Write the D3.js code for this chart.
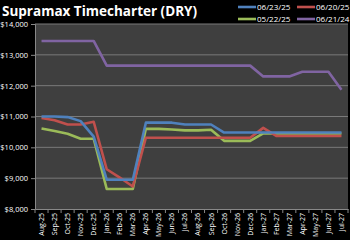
<!DOCTYPE html>
<html>
<head>
<meta charset="utf-8">
<script src="https://cdn.jsdelivr.net/npm/d3@7"></script>
<style>
  body { margin: 0; background: #000; }
  svg { display: block; font-family: "Open Sans", "Liberation Sans", sans-serif; }
</style>
</head>
<body>
<div id="chart"></div>
<script>
// months on the x axis
var months = ["Aug-25", "Sep-25", "Oct-25", "Nov-25", "Dec-25", "Jan-26", "Feb-26", "Mar-26",
  "Apr-26", "May-26", "Jun-26", "Jul-26", "Aug-26", "Sep-26", "Oct-26", "Nov-26", "Dec-26",
  "Jan-27", "Feb-27", "Mar-27", "Apr-27", "May-27", "Jun-27", "Jul-27"];

var seriesNames = ["06/23/25", "06/20/25", "05/22/25", "06/21/24"];
var seriesColors = ["#4f81bd", "#c0504d", "#9bbb59", "#8064a2"];

var s062325 = [11000, 11000, 10980, 10850, 10350, 8950, 8950, 8950, 10800, 10800, 10800, 10740,
  10740, 10740, 10480, 10480, 10480, 10480, 10480, 10480, 10480, 10480, 10480, 10480];
var s062025 = [10950, 10880, 10740, 10740, 10830, 9290, 9020, 8730, 10310, 10310, 10310, 10310,
  10310, 10310, 10310, 10310, 10310, 10630, 10370, 10370, 10370, 10370, 10370, 10370];
var s052225 = [10610, 10530, 10440, 10280, 10280, 8650, 8650, 8650, 10600, 10600, 10580, 10550,
  10550, 10570, 10210, 10210, 10210, 10450, 10450, 10450, 10450, 10450, 10450, 10450];
var s062124 = [13450, 13450, 13450, 13450, 13450, 12650, 12650, 12650, 12650, 12650, 12650, 12650,
  12650, 12650, 12650, 12650, 12650, 12300, 12300, 12300, 12450, 12450, 12450, 11870];

var yTicks = [8000, 9000, 10000, 11000, 12000, 13000, 14000];

var seriesValues = [s062325, s062025, s052225, s062124];

var W = 350, H = 240;
var margin = {top: 24, right: 2, bottom: 31, left: 35};
var width = W - margin.left - margin.right,
    height = H - margin.top - margin.bottom;

var svg = d3.select("#chart").append("svg")
  .attr("width", W)
  .attr("height", H);

svg.append("rect").attr("width", W).attr("height", H).attr("fill", "#000");

// title
svg.append("text")
  .attr("x", 2)
  .attr("y", 16)
  .attr("fill", "#fff")
  .style("font-size", "13.5px")
  .style("font-weight", "bold")
  .text("Supramax Timecharter (DRY)");

var g = svg.append("g")
  .attr("transform", "translate(" + margin.left + "," + margin.top + ")");

var x = d3.scaleBand().domain(months).range([0, width]);
var y = d3.scaleLinear().domain([8000, 14000]).range([height, 0]);

g.append("rect")
  .attr("width", width)
  .attr("height", height)
  .attr("fill", "#3f3f3f");

// gridlines
g.selectAll(".grid")
  .data(yTicks.slice(1))
  .enter().append("line")
  .attr("x1", 0).attr("x2", width)
  .attr("y1", d => y(d)).attr("y2", d => y(d))
  .attr("stroke", "#7a7a7a")
  .attr("stroke-width", 1);

// y axis
var yAxis = g.append("g")
  .call(d3.axisLeft(y).tickValues(yTicks).tickSize(4).tickPadding(3)
    .tickFormat(d => "$" + d3.format(",")(d)));
yAxis.select(".domain").attr("stroke", "#888");
yAxis.selectAll(".tick line").attr("stroke", "#888");
yAxis.selectAll("text").attr("fill", "#fff").style("font-size", "7.5px")
  .style("font-family", "'Open Sans', sans-serif");

// x axis
var xAxis = g.append("g")
  .attr("transform", "translate(0," + height + ")")
  .call(d3.axisBottom(x).tickSize(0).tickPadding(4));
xAxis.select(".domain").attr("stroke", "#888");
xAxis.selectAll("text")
  .attr("fill", "#fff")
  .style("font-size", "7px")
  .style("font-family", "'Open Sans', sans-serif")
  .attr("transform", "rotate(-90)")
  .attr("text-anchor", "end")
  .attr("x", -4)
  .attr("y", 0)
  .attr("dy", "0.35em");

// tick marks between categories
xAxis.selectAll(".sep")
  .data(months.concat(["end"]))
  .enter().append("line")
  .attr("x1", (d, i) => i * x.step())
  .attr("x2", (d, i) => i * x.step())
  .attr("y1", 0).attr("y2", 4)
  .attr("stroke", "#888");

var line = d3.line()
  .x((d, i) => x(months[i]) + x.bandwidth() / 2)
  .y(d => y(d));

// draw purple first so the others sit on top like the original
[3, 2, 1, 0].forEach(function(k) {
  g.append("path")
    .datum(seriesValues[k])
    .attr("fill", "none")
    .attr("stroke", seriesColors[k])
    .attr("stroke-width", 2.6)
    .attr("stroke-linejoin", "round")
    .attr("d", line);
});

// legend
var legendPos = [[238, 7], [297, 7], [238, 19], [297, 19]];
seriesNames.forEach(function(name, k) {
  var lg = svg.append("g").attr("transform", "translate(" + legendPos[k][0] + "," + legendPos[k][1] + ")");
  lg.append("line")
    .attr("x1", 0).attr("x2", 18)
    .attr("stroke", seriesColors[k])
    .attr("stroke-width", 2.6);
  lg.append("text")
    .attr("x", 19)
    .attr("dy", "0.35em")
    .attr("fill", "#fff")
    .style("font-size", "8px")
    .text(name);
});
</script>
</body>
</html>
